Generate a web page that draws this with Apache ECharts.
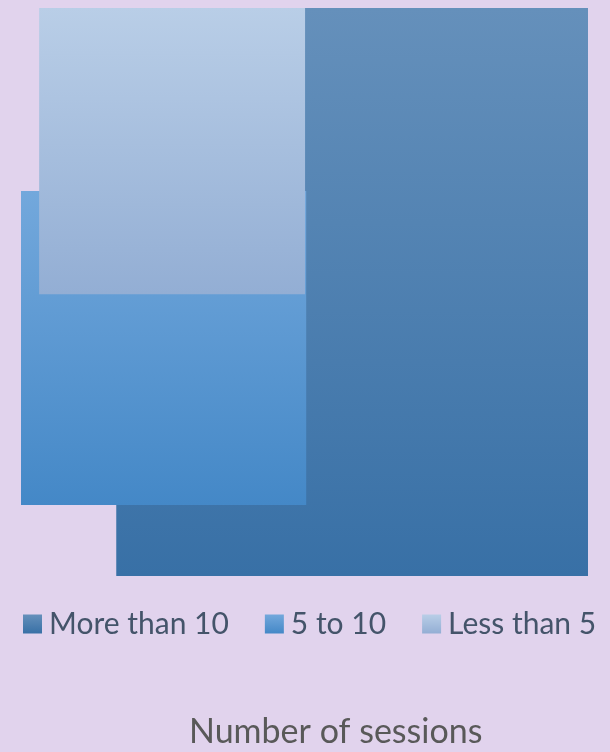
<!DOCTYPE html>
<html>
<head>
<meta charset="utf-8">
<script src="https://cdn.jsdelivr.net/npm/echarts@6/dist/echarts.min.js"></script>
<style>
html,body{margin:0;padding:0;background:#e1d3ed;}
#c{width:610px;height:752px;}
</style>
</head>
<body>
<div id="c"></div>
<script>
// Series (drawn back to front) and their rectangle extents in data units
const seriesNames = ['More than 10', '5 to 10', 'Less than 5'];
const xStart = [16.8, 0, 3.2];
const xEnd   = [100, 50.3, 50.1];
const yStart = [0, 12.5, 49.6];
const yEnd   = [100, 67.8, 100];
const titleText = 'Number of sessions';

const gradColors = [
  ['#6590bb', '#3870a6'],
  ['#73a8dc', '#4488c7'],
  ['#b9cee7', '#93aed4']
];

function grad(c){
  return new echarts.graphic.LinearGradient(0, 0, 0, 1, [
    {offset: 0, color: c[0]}, {offset: 1, color: c[1]}
  ]);
}

const chart = echarts.init(document.getElementById('c'));
const series = seriesNames.map((name, i) => ({
  name: name,
  type: 'custom',
  itemStyle: {color: grad(gradColors[i])},
  data: [[xStart[i], xEnd[i], yStart[i], yEnd[i]]],
  encode: {x: [0, 1], y: [2, 3]},
  renderItem: function(params, api){
    const p0 = api.coord([api.value(0), api.value(3)]);
    const p1 = api.coord([api.value(1), api.value(2)]);
    return {
      type: 'rect',
      shape: {x: p0[0], y: p0[1], width: p1[0] - p0[0], height: p1[1] - p0[1]},
      style: {fill: grad(gradColors[i])}
    };
  }
}));

chart.setOption({
  backgroundColor: '#e1d3ed',
  animation: false,
  grid: {left: 21, right: 22, top: 8, height: 568},
  xAxis: {type: 'value', min: 0, max: 100, show: false},
  yAxis: {type: 'value', min: 0, max: 100, show: false},
  legend: {
    left: 18, top: 604,
    itemWidth: 19, itemHeight: 19, itemGap: 36,
    icon: 'rect',
    textStyle: {fontFamily: 'Lato', fontSize: 30, color: '#44546a', padding: [0, 0, 0, 2]},
    data: seriesNames
  },
  title: {
    text: titleText,
    left: 184, top: 710,
    textStyle: {fontFamily: 'Lato', fontSize: 34, fontWeight: 'normal', color: '#595959'}
  },
  series: series
});
</script>
</body>
</html>
